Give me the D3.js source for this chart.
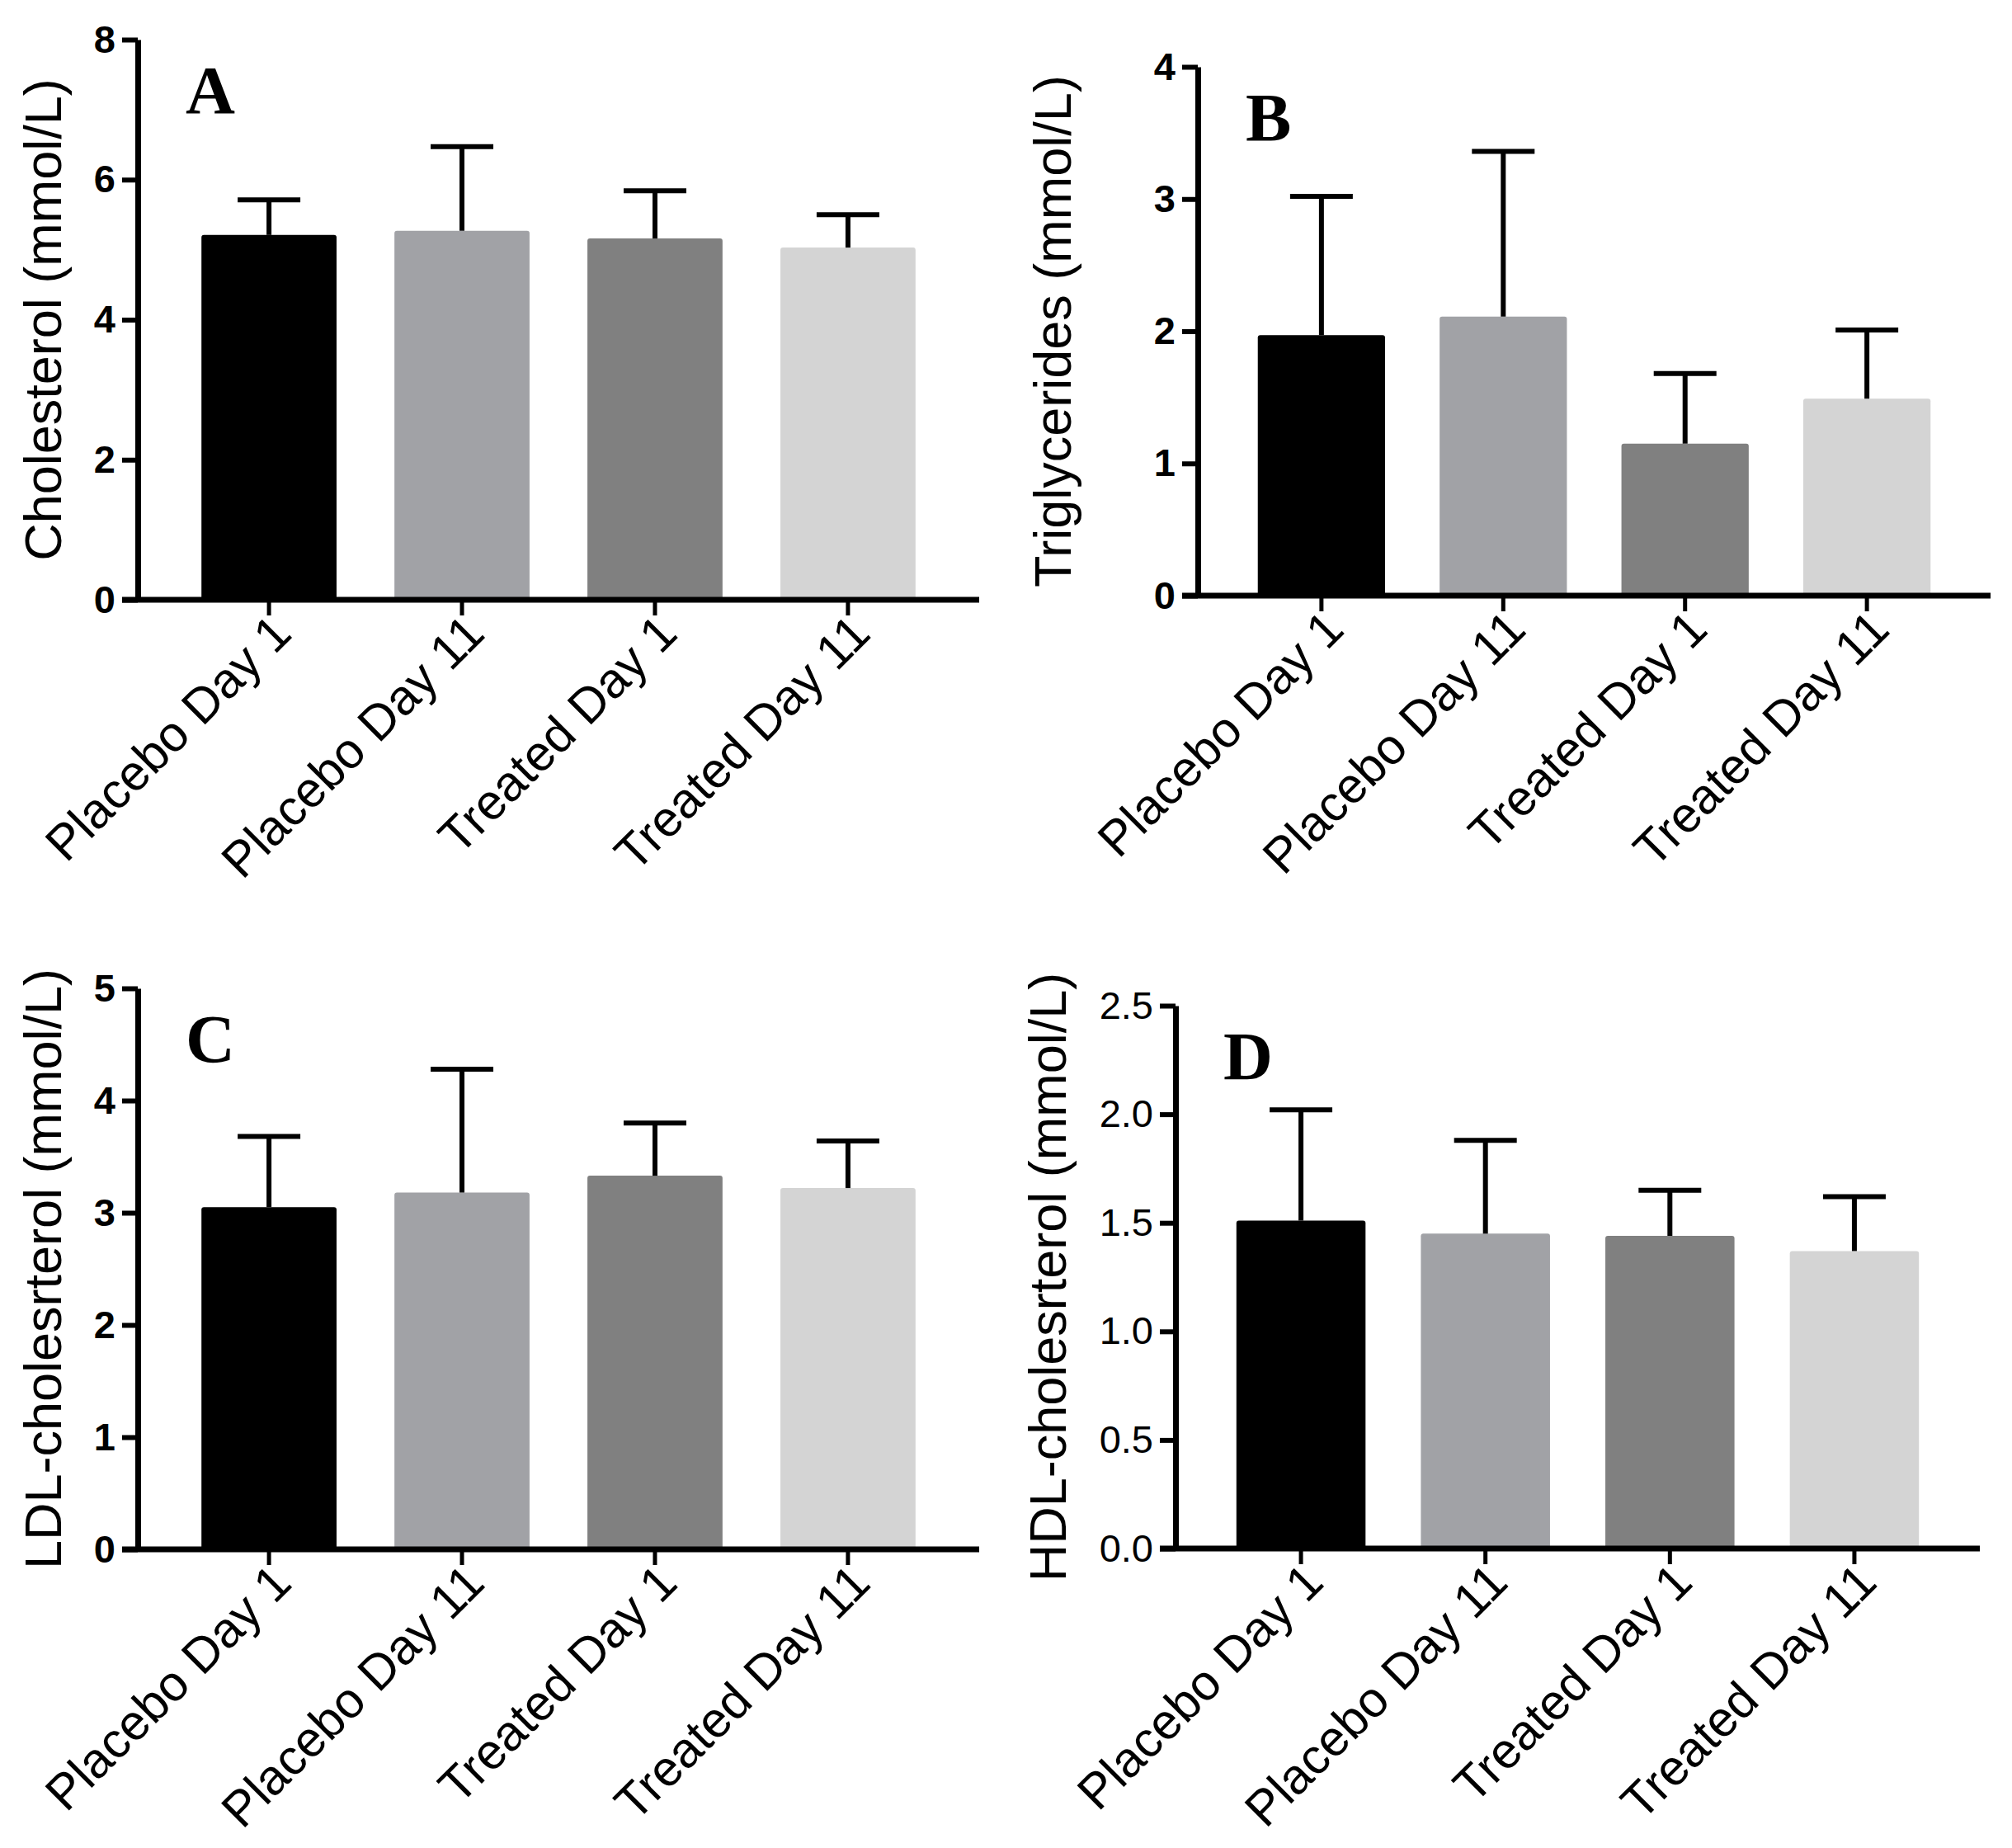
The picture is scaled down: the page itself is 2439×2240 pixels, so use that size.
<!DOCTYPE html>
<html>
<head>
<meta charset="utf-8">
<script src="https://cdn.jsdelivr.net/npm/d3@7.9.0/dist/d3.min.js"></script>
<style>
  body { margin: 0; background: #fff; }
  svg text { font-family: "Liberation Sans", Arial, sans-serif; fill: #000; }
  svg text.letter { font-family: "Liberation Serif", "Times New Roman", serif; font-weight: bold; }
</style>
</head>
<body>
<svg id="chart" width="2439" height="2240"></svg>
<script>
// categories shared by all four panels
const categories = ["Placebo Day 1", "Placebo Day 11", "Treated Day 1", "Treated Day 11"];
const barColors = ["#000000", "#a1a2a6", "#808080", "#d4d4d4"];

// A - cholesterol
const cholesterolMean = [5.21, 5.27, 5.16, 5.03];
const cholesterolErr = [0.50, 1.20, 0.68, 0.47];
const cholesterolTicks = [0, 2, 4, 6, 8];

// B - triglycerides
const triglyceridesMean = [1.97, 2.11, 1.15, 1.49];
const triglyceridesErr = [1.05, 1.25, 0.53, 0.52];
const triglyceridesTicks = [0, 1, 2, 3, 4];

// C - LDL
const ldlMean = [3.05, 3.18, 3.33, 3.22];
const ldlErr = [0.63, 1.10, 0.47, 0.42];
const ldlTicks = [0, 1, 2, 3, 4, 5];

// D - HDL
const hdlMean = [1.51, 1.45, 1.44, 1.37];
const hdlErr = [0.51, 0.43, 0.21, 0.25];
const hdlTicks = [0, 0.5, 1.0, 1.5, 2.0, 2.5];

// panel layout (pixel boxes for each plot area)
const panels = [
  { letter: "A", title: "Cholesterol (mmol/L)", mean: cholesterolMean, err: cholesterolErr, ticks: cholesterolTicks,
    fmt: d3.format("d"), bold: true, x0: 167, x1: 1187, yTop: 48, yZero: 727, titleX: 74 },
  { letter: "B", title: "Triglycerides (mmol/L)", mean: triglyceridesMean, err: triglyceridesErr, ticks: triglyceridesTicks,
    fmt: d3.format("d"), bold: true, x0: 1452, x1: 2413, yTop: 81, yZero: 722, titleX: 1298 },
  { letter: "C", title: "LDL-cholesrterol (mmol/L)", mean: ldlMean, err: ldlErr, ticks: ldlTicks,
    fmt: d3.format("d"), bold: true, x0: 167, x1: 1187, yTop: 1198, yZero: 1878, titleX: 74 },
  { letter: "D", title: "HDL-cholesrterol (mmol/L)", mean: hdlMean, err: hdlErr, ticks: hdlTicks,
    fmt: d3.format(".1f"), bold: false, x0: 1425, x1: 2400, yTop: 1219, yZero: 1877, titleX: 1292 }
];

const svg = d3.select("#chart");

function drawPanel(p) {
  const g = svg.append("g");
  const x = d3.scaleBand().domain(categories).range([p.x0, p.x1])
    .paddingInner(0.3).paddingOuter(0.33);
  const y = d3.scaleLinear().domain([0, d3.max(p.ticks)]).range([p.yZero, p.yTop]);
  const bw = x.bandwidth();

  // bars
  g.selectAll("rect.bar").data(categories).join("rect")
    .attr("class", "bar")
    .attr("x", d => x(d))
    .attr("y", (d, i) => y(p.mean[i]))
    .attr("width", bw)
    .attr("height", (d, i) => y(0) - y(p.mean[i]))
    .attr("rx", 3)
    .attr("fill", (d, i) => barColors[i]);

  // error bars (upper only)
  const capW = 76;
  g.selectAll("line.err").data(categories).join("line")
    .attr("class", "err")
    .attr("x1", d => x(d) + bw / 2).attr("x2", d => x(d) + bw / 2)
    .attr("y1", (d, i) => y(p.mean[i]))
    .attr("y2", (d, i) => y(p.mean[i] + p.err[i]))
    .attr("stroke", "#000").attr("stroke-width", 6);
  g.selectAll("line.cap").data(categories).join("line")
    .attr("class", "cap")
    .attr("x1", d => x(d) + bw / 2 - capW / 2).attr("x2", d => x(d) + bw / 2 + capW / 2)
    .attr("y1", (d, i) => y(p.mean[i] + p.err[i]))
    .attr("y2", (d, i) => y(p.mean[i] + p.err[i]))
    .attr("stroke", "#000").attr("stroke-width", 6);

  // y axis
  const yAxis = g.append("g")
    .attr("transform", `translate(${p.x0},0)`)
    .call(d3.axisLeft(y).tickValues(p.ticks).tickFormat(p.fmt).tickSize(19).tickSizeOuter(0).tickPadding(8));
  yAxis.select(".domain").attr("stroke-width", 7);
  yAxis.selectAll(".tick line").attr("stroke-width", 6);
  yAxis.selectAll(".tick text")
    .attr("font-size", 47)
    .style("font-weight", p.bold ? "bold" : "normal");

  // x axis
  const xAxis = g.append("g")
    .attr("transform", `translate(0,${p.yZero})`)
    .call(d3.axisBottom(x).tickSize(19).tickSizeOuter(0).tickFormat(""));
  xAxis.select(".domain").attr("stroke-width", 7)
    .attr("d", `M${p.x0 - 19},0H${p.x1}`);
  xAxis.selectAll(".tick line").attr("stroke-width", 5);

  // rotated category labels
  g.selectAll("text.cat").data(categories).join("text")
    .attr("class", "cat")
    .attr("transform", d => `translate(${x(d) + bw / 2 + 30},${p.yZero + 44}) rotate(-45)`)
    .attr("text-anchor", "end")
    .attr("font-size", 60)
    .text(d => d);

  // y title
  g.append("text")
    .attr("transform", `translate(${p.titleX},${(p.yTop + p.yZero) / 2}) rotate(-90)`)
    .attr("text-anchor", "middle")
    .attr("font-size", 63)
    .text(p.title);

  // panel letter
  g.append("text")
    .attr("class", "letter")
    .attr("x", p.x0 + 58)
    .attr("y", p.yTop + 89)
    .attr("font-size", 83)
    .text(p.letter);
}

panels.forEach(drawPanel);
</script>
</body>
</html>
